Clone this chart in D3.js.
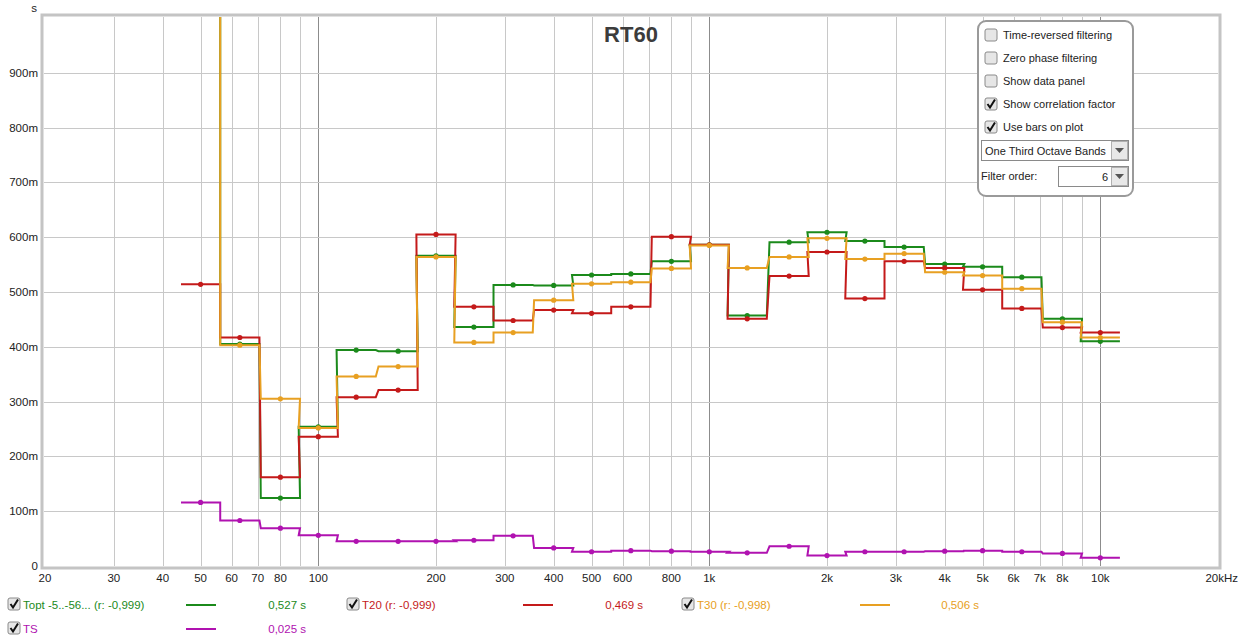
<!DOCTYPE html>
<html>
<head>
<meta charset="utf-8">
<script src="https://cdn.jsdelivr.net/npm/d3@7"></script>
<style>
  body { margin: 0; background: #fff; }
  svg { display: block; font-family: "Liberation Sans", Arial, sans-serif; }
</style>
</head>
<body>
<svg id="chart" width="1240" height="643"></svg>
<script>
// one-third octave band centres (Hz)
var bands = [50, 63, 80, 100, 125, 160, 200, 250, 315, 400, 500, 630, 800,
             1000, 1250, 1600, 2000, 2500, 3150, 4000, 5000, 6300, 8000, 10000];

// RT60 values in seconds per band
var topt = [1.25, 0.405, 0.124, 0.254, 0.394, 0.392, 0.566, 0.436, 0.513, 0.512, 0.531, 0.533, 0.556,
            0.586, 0.457, 0.591, 0.609, 0.593, 0.582, 0.551, 0.546, 0.527, 0.451, 0.410];
var t20  = [0.514, 0.417, 0.162, 0.236, 0.308, 0.321, 0.605, 0.473, 0.448, 0.467, 0.461, 0.473, 0.601,
            0.586, 0.451, 0.529, 0.573, 0.488, 0.556, 0.544, 0.504, 0.470, 0.435, 0.426];
var t30  = [1.25, 0.403, 0.305, 0.252, 0.346, 0.364, 0.564, 0.408, 0.426, 0.485, 0.515, 0.518, 0.543,
            0.585, 0.544, 0.564, 0.598, 0.560, 0.570, 0.536, 0.530, 0.506, 0.445, 0.417];
var ts   = [0.116, 0.083, 0.069, 0.056, 0.045, 0.045, 0.045, 0.047, 0.055, 0.033, 0.026, 0.028, 0.027,
            0.026, 0.024, 0.036, 0.019, 0.026, 0.026, 0.027, 0.028, 0.026, 0.023, 0.015];

var xTicks = [20, 30, 40, 50, 60, 70, 80, 100, 200, 300, 400, 500, 600, 800,
              1000, 2000, 3000, 4000, 5000, 6000, 7000, 8000, 10000, 20000];
var xTickLabels = ["20", "30", "40", "50", "60", "70", "80", "100", "200", "300", "400", "500", "600", "800",
                   "1k", "2k", "3k", "4k", "5k", "6k", "7k", "8k", "10k", "20kHz"];
var xGrid = [30, 40, 50, 60, 70, 80, 90, 100, 200, 300, 400, 500, 600, 700, 800, 900,
             1000, 2000, 3000, 4000, 5000, 6000, 7000, 8000, 9000, 10000];
var yTicks = [0, 0.1, 0.2, 0.3, 0.4, 0.5, 0.6, 0.7, 0.8, 0.9];
var yTickLabels = ["0", "100m", "200m", "300m", "400m", "500m", "600m", "700m", "800m", "900m"];

var series = [
  {name: "Topt -5..-56... (r: -0,999)", values: topt, color: "#1b8a1b", total: "0,527 s"},
  {name: "T20 (r: -0,999)", values: t20, color: "#c41a1a", total: "0,469 s"},
  {name: "T30 (r: -0,998)", values: t30, color: "#e8a022", total: "0,506 s"},
  {name: "TS", values: ts, color: "#b012b0", total: "0,025 s"}
];

var svg = d3.select("#chart");
var plot = {left: 44, right: 1218, top: 17, bottom: 566};

var x = d3.scaleLog().domain([20, 20000]).range([plot.left + 1, plot.right]);
var y = d3.scaleLinear().domain([0, 1.0]).range([plot.bottom, plot.top + 1]);

// frame
svg.append("rect")
    .attr("x", plot.left - 2).attr("y", plot.top - 2)
    .attr("width", plot.right - plot.left + 4).attr("height", plot.bottom - plot.top + 4)
    .attr("fill", "#fff").attr("stroke", "#c4c4c4").attr("stroke-width", 3);

svg.append("defs").append("clipPath").attr("id", "clip")
  .append("rect")
    .attr("x", plot.left).attr("y", plot.top)
    .attr("width", plot.right - plot.left).attr("height", plot.bottom - plot.top);

var grid = svg.append("g").attr("shape-rendering", "crispEdges");
grid.selectAll("line.v")
  .data(xGrid)
  .enter().append("line")
    .attr("x1", d => Math.round(x(d)) + 0.5).attr("x2", d => Math.round(x(d)) + 0.5)
    .attr("y1", plot.top).attr("y2", plot.bottom)
    .attr("stroke", d => (d === 100 || d === 1000 || d === 10000) ? "#8c8c8c" : "#c8c8c8");
grid.selectAll("line.h")
  .data(yTicks.slice(1))
  .enter().append("line")
    .attr("x1", plot.left).attr("x2", plot.right)
    .attr("y1", d => Math.round(y(d)) + 0.5).attr("y2", d => Math.round(y(d)) + 0.5)
    .attr("stroke", "#c8c8c8");

// axes text
svg.append("g").selectAll("text")
  .data(yTicks)
  .enter().append("text")
    .attr("x", 38).attr("y", d => y(d) + 4)
    .attr("text-anchor", "end")
    .attr("font-size", 11.5).attr("fill", "#222")
    .text((d, i) => yTickLabels[i]);
svg.append("text").attr("x", 37).attr("y", 12).attr("text-anchor", "end")
    .attr("font-size", 11.5).attr("fill", "#222").text("s");

svg.append("g").selectAll("text")
  .data(xTicks)
  .enter().append("text")
    .attr("x", d => d === 20000 ? 1238 : x(d))
    .attr("y", 582)
    .attr("text-anchor", d => d === 20000 ? "end" : "middle")
    .attr("font-size", 11.5).attr("fill", "#222")
    .text((d, i) => xTickLabels[i]);

svg.append("text")
    .attr("x", 631).attr("y", 42)
    .attr("text-anchor", "middle")
    .attr("font-size", 22).attr("font-weight", "bold").attr("fill", "#3c3c3c")
    .text("RT60");

// step lines per band
var lineGen = d3.line().x(d => x(d[0])).y(d => y(d[1]));
var edge = Math.pow(2, 1 / 6);
var marks = svg.append("g").attr("clip-path", "url(#clip)");

series.forEach(function (s) {
  var pts = [];
  bands.forEach(function (f, i) {
    pts.push([f / edge, s.values[i]]);
    pts.push([f * edge, s.values[i]]);
  });
  marks.append("path")
      .attr("d", lineGen(pts))
      .attr("fill", "none")
      .attr("stroke", s.color)
      .attr("stroke-width", 2);
  marks.selectAll(null)
    .data(bands)
    .enter().append("circle")
      .attr("cx", d => x(d))
      .attr("cy", (d, i) => y(s.values[i]))
      .attr("r", 2.6)
      .attr("fill", s.color);
});

// control panel
var panel = svg.append("g");
panel.append("rect")
    .attr("x", 978).attr("y", 21).attr("width", 155).attr("height", 175)
    .attr("rx", 8).attr("fill", "#fff").attr("stroke", "#9a9a9a").attr("stroke-width", 2);

function checkbox(g, cx, cy, checked) {
  g.append("rect")
      .attr("x", cx).attr("y", cy).attr("width", 12).attr("height", 12)
      .attr("rx", 2).attr("fill", "#e6e6e6").attr("stroke", "#8a8a8a");
  if (checked) {
    g.append("path")
        .attr("d", `M${cx + 2.5},${cy + 6} L${cx + 5},${cy + 9.5} L${cx + 10},${cy + 1.5}`)
        .attr("fill", "none").attr("stroke", "#111").attr("stroke-width", 2);
  }
}

var options = ["Time-reversed filtering", "Zero phase filtering", "Show data panel",
               "Show correlation factor", "Use bars on plot"];
var optionChecked = [false, false, false, true, true];
options.forEach(function (o, i) {
  var cy = 29 + i * 23;
  checkbox(panel, 985, cy, optionChecked[i]);
  panel.append("text").attr("x", 1003).attr("y", cy + 10)
      .attr("font-size", 11).attr("fill", "#222").text(o);
});

// dropdown
panel.append("rect").attr("x", 981.5).attr("y", 140.5).attr("width", 147).attr("height", 20)
    .attr("fill", "#fff").attr("stroke", "#8a8a8a");
panel.append("rect").attr("x", 1111.5).attr("y", 141.5).attr("width", 16).attr("height", 18)
    .attr("fill", "#e8e8e8").attr("stroke", "#b0b0b0");
panel.append("path").attr("d", "M1115,148 L1124,148 L1119.5,153 Z").attr("fill", "#555");
panel.append("text").attr("x", 985).attr("y", 155).attr("font-size", 11).attr("fill", "#222")
    .text("One Third Octave Bands");

panel.append("text").attr("x", 981).attr("y", 180).attr("font-size", 11).attr("fill", "#222")
    .text("Filter order:");
panel.append("rect").attr("x", 1058.5).attr("y", 166.5).attr("width", 70).attr("height", 20)
    .attr("fill", "#fff").attr("stroke", "#8a8a8a");
panel.append("rect").attr("x", 1111.5).attr("y", 167.5).attr("width", 16).attr("height", 18)
    .attr("fill", "#e8e8e8").attr("stroke", "#b0b0b0");
panel.append("path").attr("d", "M1115,174 L1124,174 L1119.5,179 Z").attr("fill", "#555");
panel.append("text").attr("x", 1108).attr("y", 181).attr("text-anchor", "end")
    .attr("font-size", 11).attr("fill", "#222").text("6");

// bottom legend
var legendPos = [
  {x: 8, y: 598, lx: 186, tx: 306},
  {x: 347, y: 598, lx: 523, tx: 643},
  {x: 682, y: 598, lx: 860, tx: 979},
  {x: 8, y: 622, lx: 186, tx: 306}
];
var legend = svg.append("g");
series.forEach(function (s, i) {
  var p = legendPos[i];
  checkbox(legend, p.x, p.y, true);
  legend.append("text").attr("x", p.x + 15).attr("y", p.y + 11)
      .attr("font-size", 11.5).attr("fill", s.color).text(s.name);
  legend.append("line").attr("x1", p.lx).attr("x2", p.lx + 30)
      .attr("y1", p.y + 7).attr("y2", p.y + 7)
      .attr("stroke", s.color).attr("stroke-width", 2);
  legend.append("text").attr("x", p.tx).attr("y", p.y + 11).attr("text-anchor", "end")
      .attr("font-size", 11.5).attr("fill", s.color).text(s.total);
});
</script>
</body>
</html>
